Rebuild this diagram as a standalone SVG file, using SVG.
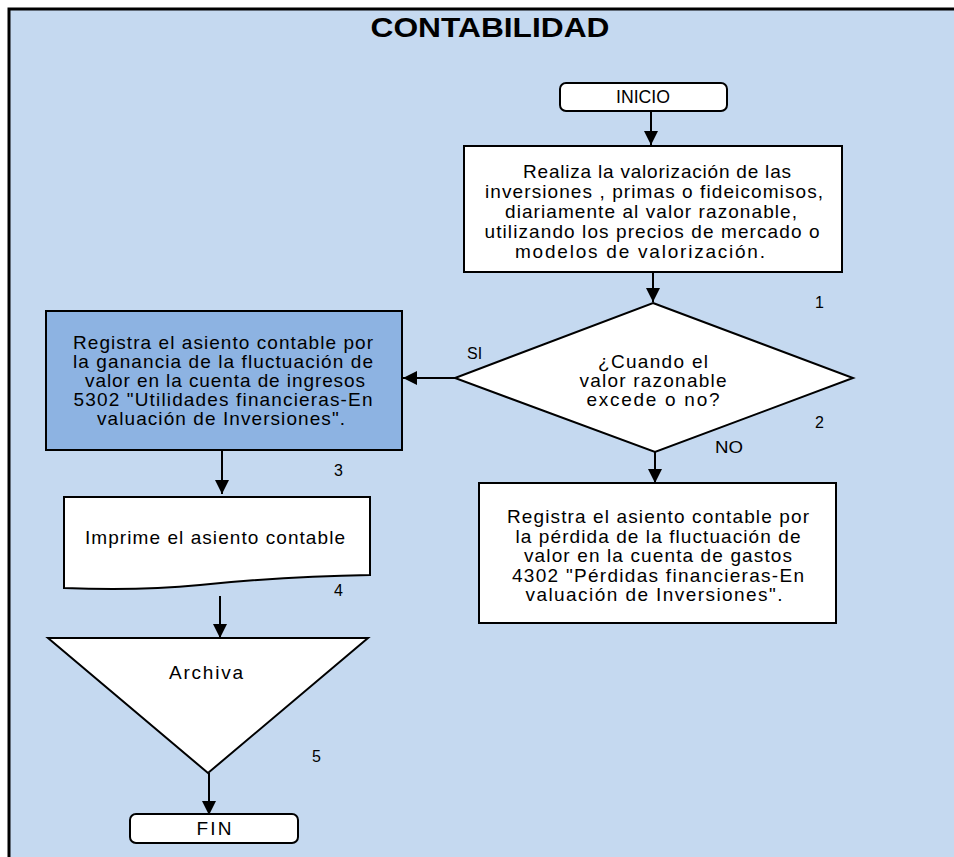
<svg xmlns="http://www.w3.org/2000/svg" width="954" height="857" viewBox="0 0 954 857">
<defs>
<style>
.t{font-family:"Liberation Sans",Arial,sans-serif;font-size:19px;fill:#000;text-anchor:middle}
.n{font-family:"Liberation Sans",Arial,sans-serif;font-size:16px;fill:#000}
.box{fill:#fff;stroke:#000;stroke-width:2}
.ln{stroke:#000;stroke-width:2;fill:none}
</style>
<marker id="ahb" markerWidth="14" markerHeight="14" refX="14" refY="7" orient="auto" markerUnits="userSpaceOnUse" viewBox="0 0 14 14">
<path d="M0,0 L14,7 L0,14 z" fill="#000"/>
</marker>
</defs>
<rect x="0" y="0" width="954" height="857" fill="#fff"/>
<rect x="9" y="9" width="970" height="870" fill="#C5D9F0" stroke="#000" stroke-width="3"/>
<text x="490" y="37" font-family="Liberation Sans,Arial,sans-serif" font-weight="bold" font-size="27" text-anchor="middle" textLength="239" lengthAdjust="spacingAndGlyphs">CONTABILIDAD</text>

<g id="connectors">
<line class="ln" x1="651" y1="112" x2="651" y2="145" marker-end="url(#ahb)"/>
<line class="ln" x1="653" y1="272" x2="653" y2="302" marker-end="url(#ahb)"/>
<line class="ln" x1="455" y1="378" x2="403" y2="378" marker-end="url(#ahb)"/>
<line class="ln" x1="655" y1="452" x2="655" y2="483" marker-end="url(#ahb)"/>
<line class="ln" x1="222" y1="450" x2="222" y2="494" marker-end="url(#ahb)"/>
<line class="ln" x1="220" y1="596" x2="220" y2="638" marker-end="url(#ahb)"/>
<line class="ln" x1="209" y1="773" x2="209" y2="815" marker-end="url(#ahb)"/>
</g>

<g id="inicio">
<rect class="box" x="560" y="83" width="167" height="28" rx="6"/>
<text class="t" x="643" y="103" font-size="16" textLength="54" lengthAdjust="spacingAndGlyphs">INICIO</text>
</g>

<g id="valoriza">
<rect class="box" x="464" y="146" width="378" height="126"/>
<text class="t" x="657" y="178" textLength="268">Realiza la valorización de las</text>
<text class="t" x="654" y="198" textLength="338">inversiones , primas o fideicomisos,</text>
<text class="t" x="651" y="218" textLength="292">diariamente al valor razonable,</text>
<text class="t" x="652" y="238" textLength="335">utilizando los precios de mercado o</text>
<text class="t" x="640" y="258" textLength="250">modelos de valorización.</text>
</g>

<g id="decision">
<polygon class="box" points="653,303 853,378 655,452 455,378"/>
<text class="t" x="653" y="368" textLength="110">¿Cuando el</text>
<text class="t" x="653" y="387" textLength="147">valor razonable</text>
<text class="t" x="653" y="406" textLength="133">excede o no?</text>
<text class="n" x="467" y="359">SI</text>
<text class="n" x="715" y="453" textLength="28" lengthAdjust="spacingAndGlyphs">NO</text>
<text class="n" x="815" y="308">1</text>
<text class="n" x="815" y="428">2</text>
</g>

<g id="ganancia">
<rect x="46" y="311" width="356" height="139" fill="#8DB3E2" stroke="#000" stroke-width="2"/>
<text class="t" x="223" y="349" textLength="300">Registra el asiento contable por</text>
<text class="t" x="223" y="368" textLength="300">la ganancia de la fluctuación de</text>
<text class="t" x="225" y="387" textLength="280">valor en la cuenta de ingresos</text>
<text class="t" x="223" y="406" textLength="299">5302 "Utilidades financieras-En</text>
<text class="t" x="221" y="425" textLength="248">valuación de Inversiones".</text>
<text class="n" x="334" y="476">3</text>
</g>

<g id="perdida">
<rect class="box" x="479" y="483" width="357" height="140"/>
<text class="t" x="658" y="523" textLength="302">Registra el asiento contable por</text>
<text class="t" x="658" y="543" textLength="285">la pérdida de la fluctuación de</text>
<text class="t" x="658" y="562" textLength="268">valor en la cuenta de gastos</text>
<text class="t" x="658" y="582" textLength="292">4302 "Pérdidas financieras-En</text>
<text class="t" x="654" y="601" textLength="257">valuación de Inversiones".</text>
</g>

<g id="imprime">
<path class="box" d="M64,497 L370,497 L370,575 C300,576 250,580 200,585 C150,590 110,590 64,588 Z"/>
<text class="t" x="215" y="544" font-size="18" textLength="260">Imprime  el asiento contable</text>
<text class="n" x="334" y="596">4</text>
</g>

<g id="archiva">
<polygon class="box" points="48,638 368,638 208,773"/>
<text class="t" x="206" y="679" font-size="18" textLength="74">Archiva</text>
<text class="n" x="312" y="762">5</text>
</g>

<g id="fin">
<rect class="box" x="130" y="814" width="168" height="29" rx="6"/>
<text class="t" x="214" y="835" textLength="35">FIN</text>
</g>
</svg>
